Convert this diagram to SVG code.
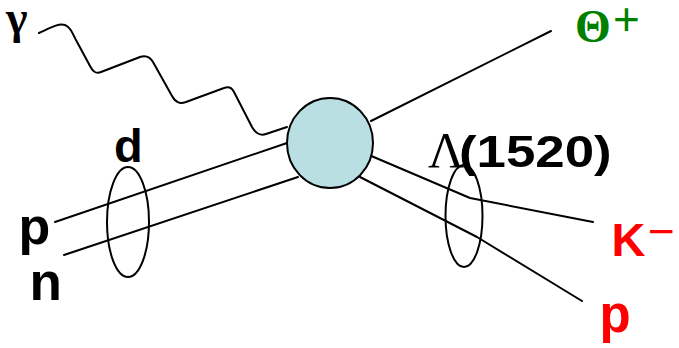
<svg xmlns="http://www.w3.org/2000/svg" width="679" height="348" viewBox="0 0 679 348">
<style>
.ln{fill:none;stroke:#000;stroke-width:2;stroke-linejoin:round;stroke-linecap:round}
.sans{font-family:"Liberation Sans",Arial,sans-serif;font-weight:bold}
.reg{font-family:"Liberation Sans",Arial,sans-serif;font-weight:normal}
.serif{font-family:"Liberation Serif","Times New Roman",serif}
.blk{fill:#000}
.red{fill:#FF0000}
.grn{fill:#008000}
</style>
<rect width="679" height="348" fill="#fff"/>
<g id="connectors">
<path class="ln" d="M39,33 C50,28 58,23 65,25 C70,27 72,32 76,40 L90,66 C93,72 96,74 101,72 L140,57 C146,55 150,57 153,62 L172,96 C176,103 180,104 186,102 L224,88 C229,86 232,88 234,92 L252,127 C256,134 260,136 266,134 L287,127"/>
<line class="ln" x1="55" y1="222" x2="287" y2="143"/>
<line class="ln" x1="64" y1="255" x2="298" y2="177"/>
<line class="ln" x1="371" y1="121" x2="551" y2="31"/>
<polyline class="ln" points="369,155 470,198 593,222"/>
<polyline class="ln" points="360,177 477,237 582,301"/>
</g>
<g id="vertex">
<ellipse cx="330" cy="143" rx="43" ry="45" fill="#BADFE3" stroke="#000" stroke-width="2"/>
</g>
<g id="deuteron">
<ellipse class="ln" cx="128" cy="222" rx="21" ry="55"/>
<text class="sans blk" x="114" y="162" font-size="47">d</text>
</g>
<g id="lambda">
<ellipse class="ln" cx="464" cy="216" rx="18.5" ry="51"/>
<text class="serif blk" x="428" y="167" font-size="50">Λ</text>
<text class="sans blk" transform="translate(459,167) scale(1.2,1)" x="0" y="0" font-size="44">(1520)</text>
</g>
<g id="gamma">
<text class="serif blk" x="6" y="33" font-size="46" font-weight="bold">γ</text>
</g>
<g id="proton-in">
<text class="sans blk" x="18.5" y="244" font-size="52">p</text>
</g>
<g id="neutron">
<text class="sans blk" x="29.5" y="300" font-size="53">n</text>
</g>
<g id="theta">
<text class="serif grn" x="575" y="42" font-size="46" font-weight="bold">Θ</text>
<text class="reg grn" x="613" y="35" font-size="46">+</text>
</g>
<g id="kaon">
<text class="sans red" x="611.5" y="256" font-size="47">K</text>
<text class="reg red" x="648" y="247" font-size="46">−</text>
</g>
<g id="proton-out">
<text class="sans red" x="599.5" y="332" font-size="51">p</text>
</g>
</svg>
